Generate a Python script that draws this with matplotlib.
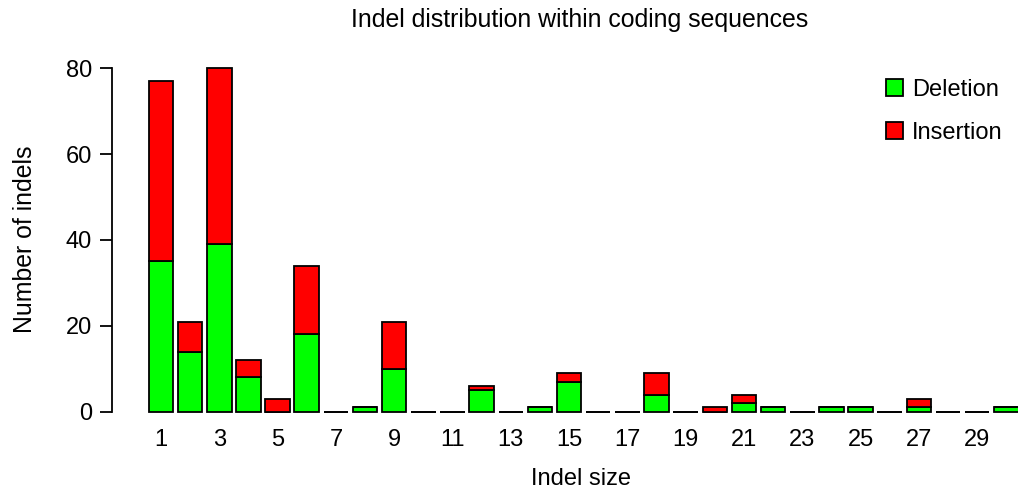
import matplotlib
matplotlib.use("Agg")
import matplotlib.pyplot as plt
from matplotlib.patches import Patch

sizes = list(range(1, 31))
deletion = [35, 14, 39, 8, 0, 18, 0, 1, 10, 0, 0, 5, 0, 1, 7, 0, 0, 4, 0, 0, 2, 1, 0, 1, 1, 0, 1, 0, 0, 1]
insertion = [42, 7, 41, 4, 3, 16, 0, 0, 11, 0, 0, 1, 0, 0, 2, 0, 0, 5, 0, 1, 2, 0, 0, 0, 0, 0, 2, 0, 0, 0]
xtick_labels = [str(v) for v in range(1, 30, 2)]
yticks = [0, 20, 40, 60, 80]

plt.rcParams['font.family'] = ['Liberation Sans', 'DejaVu Sans']
FS = 17

W, H = 1018, 491
fig = plt.figure(figsize=(W / 100, H / 100), dpi=100)
ppu = (411.7 - 68.3) / 80.0
ylo, yhi = -2.0, 82.0
bottom_px = 411.7 - ylo * ppu
top_px = 68.3 - (yhi - 80) * ppu
ax = fig.add_axes([112 / W, (H - bottom_px) / H, (W - 112) / W, (bottom_px - top_px) / H])

green = '#00ff00'
red = '#ff0000'
ax.bar(sizes, deletion, width=0.84, color=green, edgecolor='black', linewidth=1.3, label='Deletion')
ax.bar(sizes, insertion, width=0.84, bottom=deletion, color=red, edgecolor='black', linewidth=1.3, label='Insertion')

ax.set_xlim(-0.68, 30.4)
ax.set_ylim(ylo, yhi)
for s in ['top', 'right', 'bottom']:
    ax.spines[s].set_visible(False)
ax.spines['left'].set_bounds(0, 80)
ax.spines['left'].set_linewidth(1.3)
ax.set_yticks(yticks)
ax.set_yticklabels([str(v) for v in yticks], fontsize=FS)
ax.tick_params(axis='y', length=8.5, width=1.3, pad=6)
ax.set_xticks(list(range(1, 30, 2)))
ax.set_xticklabels(xtick_labels, fontsize=FS)
ax.tick_params(axis='x', length=0, pad=6)

fig.text(580 / W, 1 - 27 / H, 'Indel distribution within coding sequences', ha='center', va='baseline', fontsize=17.9)
fig.text(581 / W, 1 - 485 / H, 'Indel size', ha='center', va='baseline', fontsize=FS)
fig.text(25 / W, 1 - 239 / H, 'Number of indels', ha='center', va='center', rotation=90, fontsize=17.9)

handles = [Patch(facecolor=green, edgecolor='black', linewidth=1.3, label='Deletion'),
           Patch(facecolor=red, edgecolor='black', linewidth=1.3, label='Insertion')]
leg = ax.legend(handles=handles, loc='upper left', bbox_to_anchor=(886 / W, 1 - 79 / H),
                bbox_transform=fig.transFigure, frameon=False, fontsize=FS,
                handlelength=0.72, handleheight=0.72, handletextpad=0.38, labelspacing=0.88,
                borderpad=0, borderaxespad=0)

fig.savefig('out.png', dpi=100)
